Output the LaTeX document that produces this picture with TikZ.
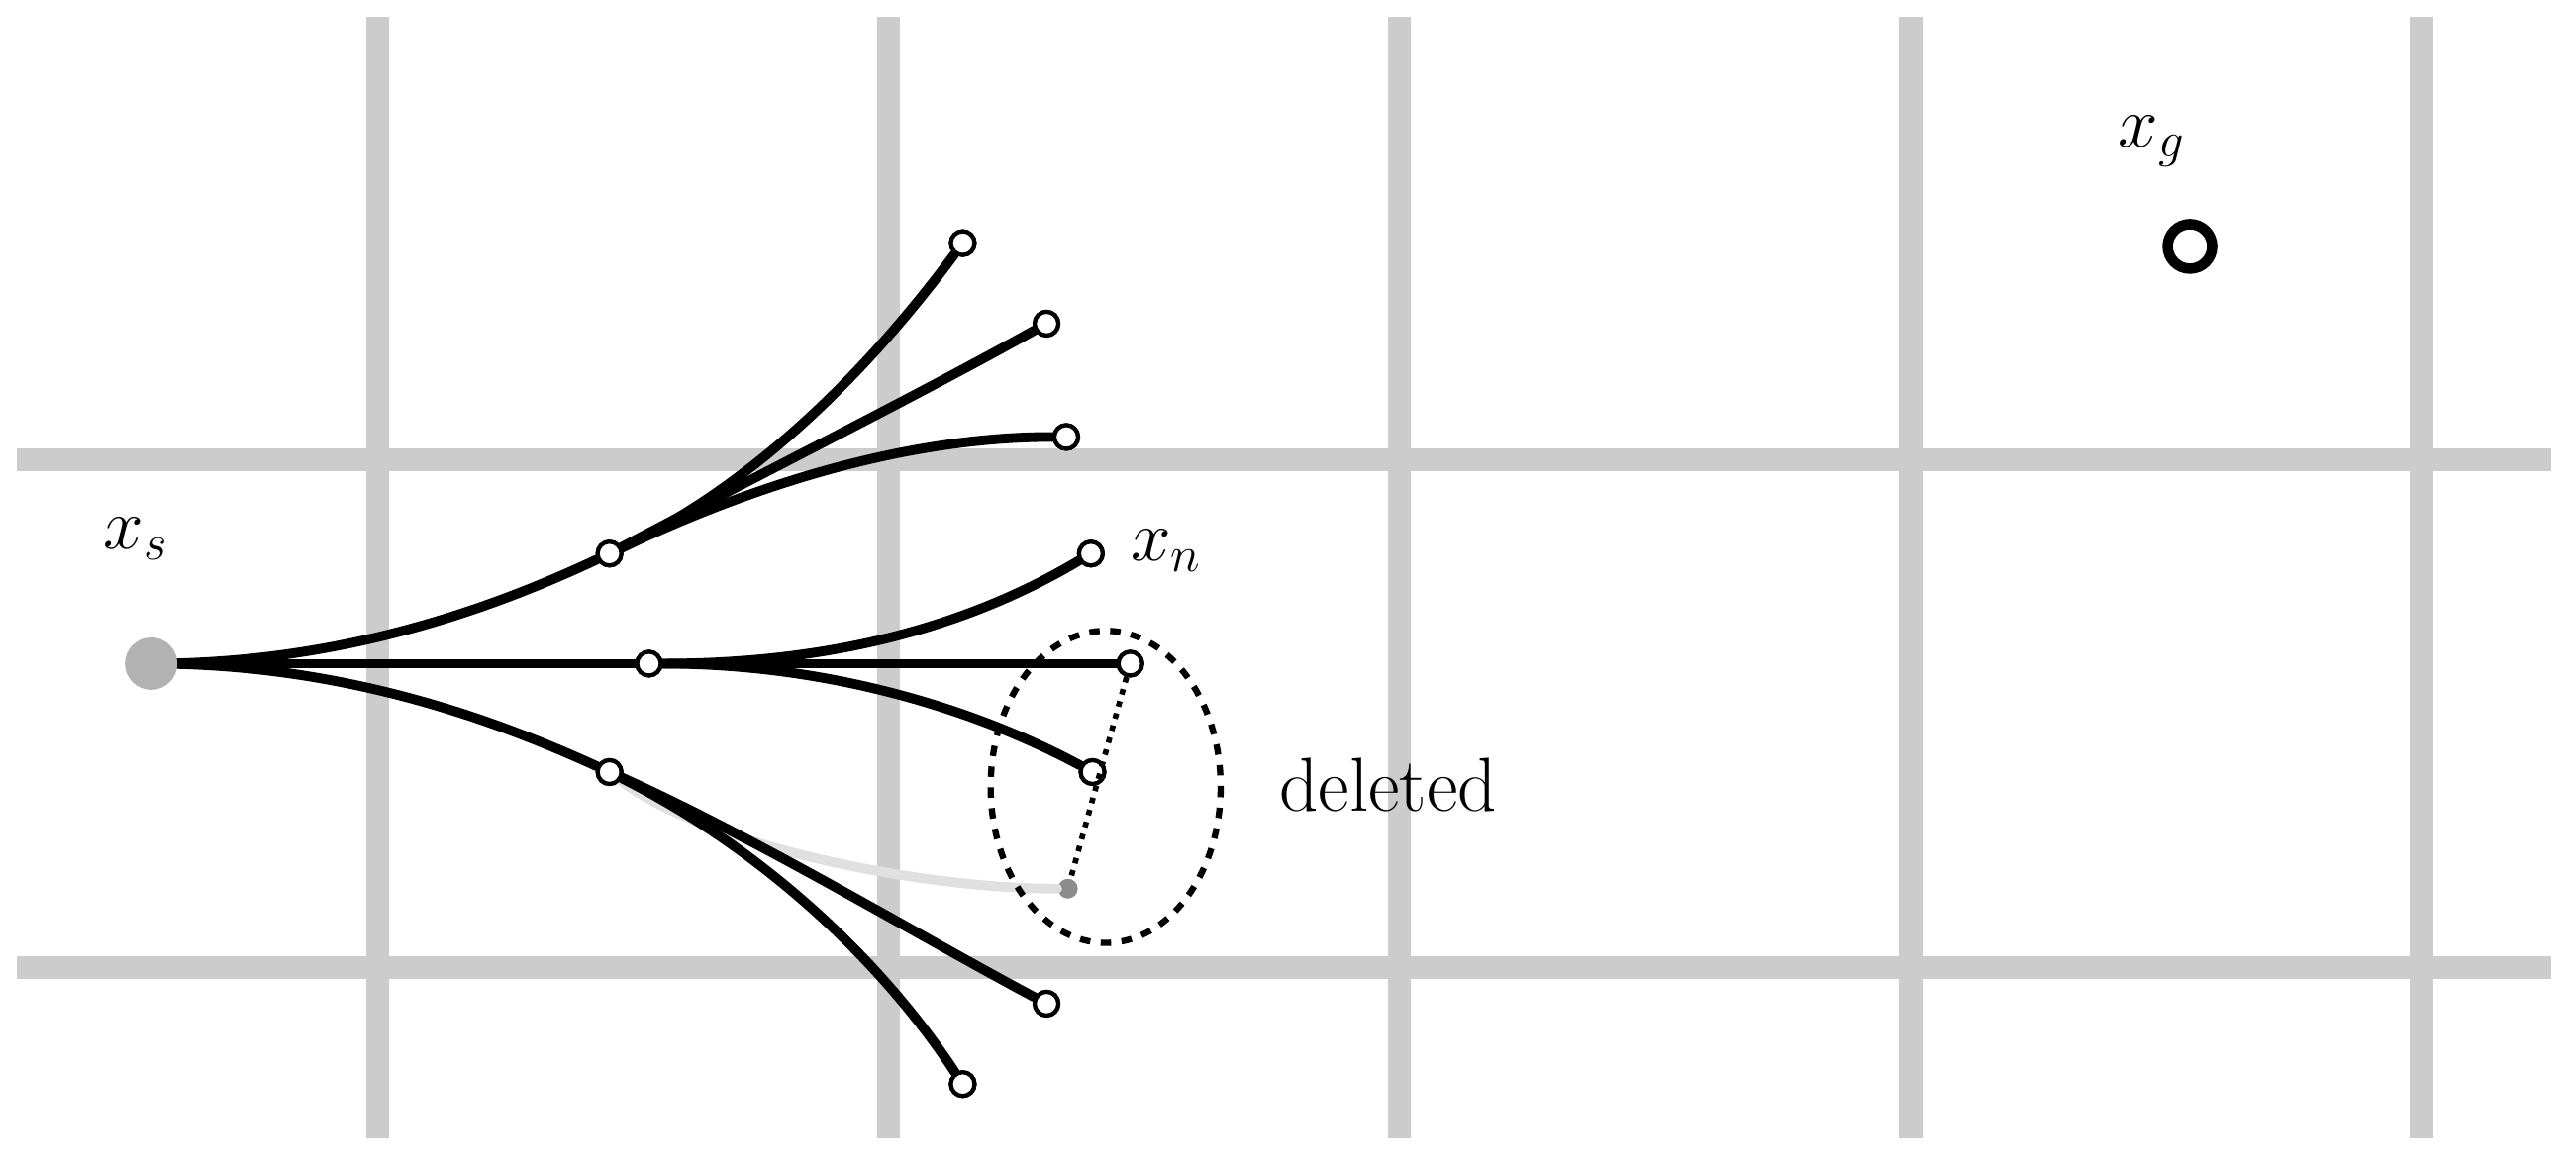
\documentclass[tikz,border=0pt]{standalone}
\begin{document}
\begin{tikzpicture}[x=0.0166cm,y=-0.0166cm,
  grid/.style={draw=black!20,line width=14*0.0166cm},
  br/.style={line width=2.8pt,line cap=round},
  tip/.style={circle,draw=black,fill=white,line width=1.2pt,inner sep=0pt,minimum size=0.24cm},
  lab/.style={font=\fontsize{22}{26}\selectfont}]
\useasboundingbox (0,0) rectangle (1568,713);
\foreach \x in {230,541,852,1163,1474} \draw[grid] (\x,10) -- (\x,693);
\foreach \y in {280,589} \draw[grid] (10,\y) -- (1553,\y);
\coordinate (S) at (92,404);
\node[tip] (A) at (371,337) {};
\node[tip] (B) at (395,404) {};
\node[tip] (C) at (371,470) {};
\node[tip] (a1) at (586,148) {};
\node[tip] (a2) at (637,197) {};
\node[tip] (a3) at (649,266) {};
\node[tip] (b1) at (664,337) {};
\node[tip] (b2) at (688,404) {};
\node[tip] (b3) at (665,470) {};
\node[tip] (c1) at (637,611) {};
\node[tip] (c2) at (586,660) {};
\node[circle,fill=black!45,inner sep=0pt,minimum size=0.2cm] (c3) at (650,541) {};
\begin{scope}[on background layer/.style={}]
\draw[br,black!12] (C) .. controls (430,515) and (560,541) .. (c3);
\draw[br] (S) .. controls (200,404) and (290,375) .. (A);
\draw[br] (S) -- (B);
\draw[br] (S) .. controls (200,404) and (290,433) .. (C);
\draw[br] (A) .. controls (470,290) and (540,210) .. (a1);
\draw[br] (A) .. controls (460,290) and (560,240) .. (a2);
\draw[br] (A) .. controls (470,290) and (560,266) .. (a3);
\draw[br] (B) .. controls (520,404) and (600,375) .. (b1);
\draw[br] (B) -- (b2);
\draw[br] (B) .. controls (510,404) and (600,435) .. (b3);
\draw[br] (C) .. controls (460,510) and (560,570) .. (c1);
\draw[br] (C) .. controls (470,520) and (540,590) .. (c2);
\end{scope}
\foreach \n in {A,B,C,a1,a2,a3,b1,b2,b3,c1,c2} \node[tip] at (\n) {};
\node[circle,fill=black!30,minimum size=0.53cm,inner sep=0pt] (s) at (S) {};
\draw[line width=1.6pt,dotted] (b2) -- (c3);
\draw[line width=1.8pt,dashed] (673,479) ellipse [x radius=70,y radius=95];
\node[circle,draw=black,line width=3pt,minimum size=0.45cm,inner sep=0pt] (g) at (1333,150) {};
\node[lab] (ls) at (83,328) {$x_s$};
\node[lab] (lg) at (1310,86) {$x_g$};
\node[lab] (ln) at (710,335) {$x_n$};
\node[lab] (ld) at (845,478) {deleted};
\end{tikzpicture}
\end{document}
